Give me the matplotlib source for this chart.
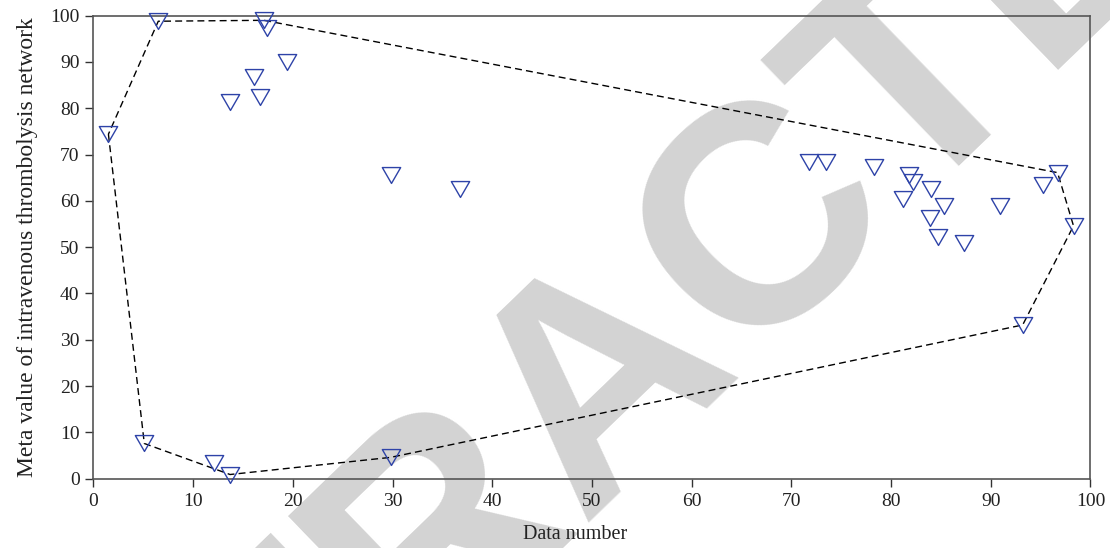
"""
Scatter of meta values with dashed convex hull (retracted figure)
"""

import numpy as np
import matplotlib
matplotlib.use("Agg")
import matplotlib.pyplot as plt
from matplotlib.path import Path

# 読み取った値
data_x = [1.5, 6.5, 17.1, 17.4, 19.4, 16.1, 16.7, 13.7, 5.1, 12.1,
          13.7, 29.8, 29.8, 36.8, 71.8, 73.5, 78.3, 81.8, 82.2, 84.0,
          81.2, 85.3, 83.9, 84.7, 87.3, 90.9, 95.2, 96.7, 98.3, 93.2]
data_y = [74.4, 98.8, 99.0, 97.4, 90.1, 86.7, 82.5, 81.3, 7.6, 3.4,
          0.9, 4.6, 65.6, 62.6, 68.5, 68.5, 67.4, 65.6, 64.1, 62.5,
          60.4, 58.9, 56.4, 52.1, 50.8, 59.0, 63.4, 66.1, 54.6, 33.2]
ticks = [0, 10, 20, 30, 40, 50, 60, 70, 80, 90, 100]
watermark = "RETRACTED"

plt.rcParams["font.family"] = ["Liberation Serif", "DejaVu Serif"]


def convex_hull(px, py):
    # monotone chain
    pts = sorted(set(zip(px, py)))

    def cross(o, a, b):
        return (a[0] - o[0]) * (b[1] - o[1]) - (a[1] - o[1]) * (b[0] - o[0])

    lower, upper = [], []
    for p in pts:
        while len(lower) >= 2 and cross(lower[-2], lower[-1], p) <= 0:
            lower.pop()
        lower.append(p)
    for p in reversed(pts):
        while len(upper) >= 2 and cross(upper[-2], upper[-1], p) <= 0:
            upper.pop()
        upper.append(p)
    hull = lower[:-1] + upper[:-1]
    hull.append(hull[0])
    return np.array(hull)


fig = plt.figure(figsize=(11.1, 5.48), dpi=100)
ax = fig.add_axes([0.0842, 0.1265, 0.8982, 0.8449])
ax.patch.set_alpha(0)

# 透かし
fig.text(0.543, 0.31, watermark, family=["Liberation Sans", "DejaVu Sans"],
         fontweight="bold", fontsize=224, color="#d3d3d3", rotation=44,
         rotation_mode="anchor", ha="center", va="center", zorder=-10)

hull = convex_hull(data_x, data_y)
ax.plot(hull[:, 0], hull[:, 1], color="black", linewidth=1.0,
        linestyle=(0, (5, 3)), zorder=2)

# 正三角形（下向き）
tri = Path([(-1, 0.866), (1, 0.866), (0, -0.866), (-1, 0.866)],
           [Path.MOVETO, Path.LINETO, Path.LINETO, Path.CLOSEPOLY])
ax.plot(data_x, data_y, linestyle="none", marker=tri, markersize=13.2,
        markerfacecolor="none", markeredgecolor="#2e43a8",
        markeredgewidth=1.0, zorder=3, clip_on=False)

ax.set_xlim(0, 100)
ax.set_ylim(0, 100)
ax.set_xticks(ticks)
ax.set_yticks(ticks)
ax.tick_params(direction="out", length=6, width=1.0, colors="#333333",
               labelsize=14, pad=4, top=False, right=False)
ax.tick_params(labelcolor="#222222")
for s in ax.spines.values():
    s.set_color("#555555")
    s.set_linewidth(1.2)

ax.set_xlabel("Data number", fontsize=14.5, color="#222222")
ax.set_ylabel("Meta value of intravenous thrombolysis network", fontsize=17,
              color="#222222")
ax.xaxis.set_label_coords(0.483, -0.1)
ax.yaxis.set_label_coords(-0.056, 0.5)

fig.savefig("out.png", dpi=100)
